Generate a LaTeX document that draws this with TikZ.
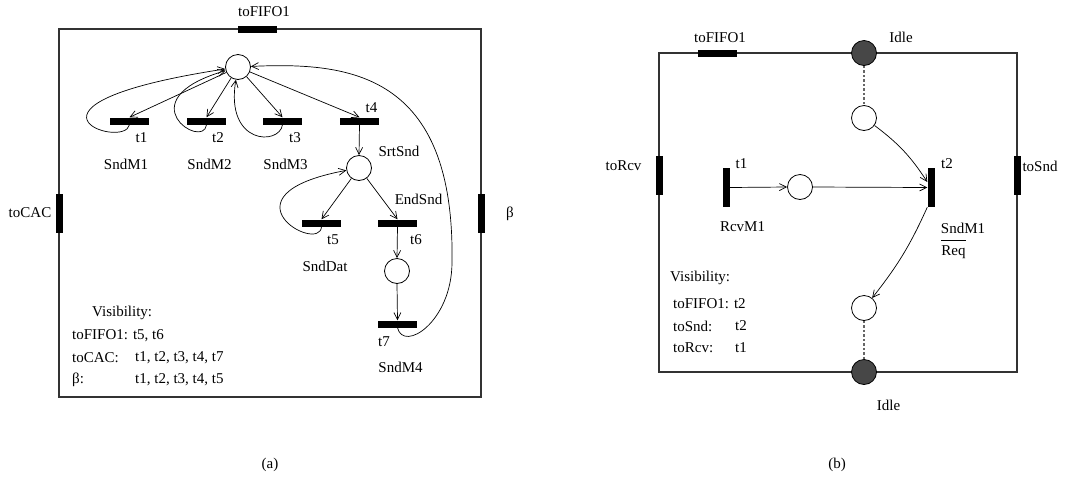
\documentclass[tikz,border=0pt]{standalone}
\usepackage{fontspec}
\setmainfont{Liberation Serif}
\usetikzlibrary{arrows.meta}
\begin{document}
\begin{tikzpicture}[x=1pt,y=-1pt,
  every node/.style={font=\fontsize{15}{18}\selectfont, inner sep=0pt},
  hbar/.style={fill=black, minimum width=39pt, minimum height=7pt},
  vbar/.style={fill=black, minimum width=7pt, minimum height=39pt},
  place/.style={circle, draw, fill=white, minimum size=25pt, line width=0.8pt},
  idle/.style={place, fill=black!72},
  arr/.style={-{Straight Barb[length=7pt,width=7pt]}, line width=0.7pt},
  frame/.style={draw=black!80, line width=1.1pt},
  dotl/.style={draw=black!60, line width=1.3pt, dash pattern=on 2.5pt off 2pt},
  txt/.style={anchor=west}
]
\useasboundingbox (0,0) rectangle (1065,483);

% ---------------- (a) ----------------
\draw[frame] (59,29) rectangle (481,397);
\node[hbar] (fifoA) at (257,29) {};
\node[vbar] (cac) at (59,213) {};
\node[vbar] (beta) at (481,213) {};
\node (fifoAl) at (264,12) {toFIFO1};
\node (cacl) at (30,213) {toCAC};
\node (betal) at (510,214) {β};

\node[place] (P0) at (238,67) {};
\node[hbar] (t1) at (129.5,121) {};
\node[hbar] (t2) at (206.5,121) {};
\node[hbar] (t3) at (282.5,121) {};
\node[hbar] (t4) at (359.5,121) {};
\node[place] (SS) at (359,168) {};
\node[hbar] (t5) at (321.5,223) {};
\node[hbar] (t6) at (397.5,223) {};
\node[place] (P3) at (397,271) {};
\node[hbar] (t7) at (397.5,324) {};
\coordinate (bend) at (452,262);

\node (t1l) at (141.5,138) {t1};
\node (t2l) at (218,138) {t2};
\node (t3l) at (295,138) {t3};
\node (t4l) at (371.5,108) {t4};
\node (m1l) at (126,164) {SndM1};
\node (m2l) at (209.5,164) {SndM2};
\node (m3l) at (285.5,164) {SndM3};
\node (ssl) at (399,151) {SrtSnd};
\node (esl) at (418.5,199) {EndSnd};
\node (t5l) at (333,240) {t5};
\node (t6l) at (416,240) {t6};
\node (sdl) at (325,266) {SndDat};
\node (t7l) at (384,342) {t7};
\node (m4l) at (400.5,367) {SndM4};

\draw[arr] (P0) -- (t1.north);
\draw[arr] (P0) -- (t2.north);
\draw[arr] (P0) -- (t3.north);
\draw[arr] (P0) -- (t4.north);
\draw[arr] (t1.south) .. controls +(-5,26) and +(-248,38) .. (P0);
\draw[arr] (t2.south) .. controls +(-3,26) and +(-113,33) .. (P0);
\draw[arr] (t3.south) .. controls +(-3,21) and +(-13,78) .. (P0);
\draw[arr] (t4.south) -- (SS.north);
\draw[arr] (SS) -- (t5.north);
\draw[arr] (SS) -- (t6.north);
\draw[arr] (t5.south) .. controls +(-2,28) and +(-144,27) .. (SS);
\draw[arr] (t6.south) -- (P3.north);
\draw[arr] (P3.south) -- (t7.north);
\draw[arr] (t7.south) .. controls +(6,25) and +(0,60) .. (bend)
  .. controls +(3,-190) and +(110,-5) .. (P0);

\node[txt] (visA) at (92,313) {Visibility:};
\node[txt] (vA1) at (72,336) {toFIFO1: t5, t6};
\node[txt] (vA2) at (72,358) {toCAC:};
\node[txt] (vA2b) at (135,358) {t1, t2, t3, t4, t7};
\node[txt] (vA3) at (72,380) {β:};
\node[txt] (vA3b) at (135,380) {t1, t2, t3, t4, t5};

\node (capa) at (270,465) {(a)};

% ---------------- (b) ----------------
\draw[frame] (659,53) rectangle (1017,372);
\node[hbar] (fifoB) at (717,53) {};
\node[vbar] (rcv) at (659,175) {};
\node[vbar] (snd) at (1017,175) {};
\node (fifoBl) at (720,38) {toFIFO1};
\node (rcvl) at (623.5,166) {toRcv};
\node (sndl) at (1040,166) {toSnd};

\node[idle] (Iu) at (864,53) {};
\node[idle] (Il) at (864,372) {};
\node (Iul) at (901,37) {Idle};
\node (Ill) at (888.5,405) {Idle};

\node[place] (Pu) at (864,118) {};
\node[vbar] (rt1) at (726,187.5) {};
\node[place] (Pm) at (800,187) {};
\node[vbar] (rt2) at (931,187.5) {};
\node[place] (Pl) at (864,308) {};

\node (rt1l) at (741.5,164) {t1};
\node (rcvm) at (742.5,227) {RcvM1};
\node (rt2l) at (947,164) {t2};
\node (sm1) at (963,228) {SndM1};
\node (req) at (953.5,249) {$\overline{\mbox{Req}\rule{0pt}{14pt}}$};

\draw[dotl] (Iu.south) -- (Pu.north);
\draw[dotl] (Pl.south) -- (Il.north);
\draw[arr] (rt1.east) -- (Pm.west);
\draw[arr] (Pm.east) -- (rt2.west);
\draw[arr] (Pu) to[bend left=10] ([yshift=5.5pt]rt2.west);
\draw[arr] (rt2.south west) to[bend left=7] (Pl);

\node[txt] (visB) at (670,278) {Visibility:};
\node[txt] (vB1) at (673,304) {toFIFO1: t2};
\node[txt] (vB2) at (673,326) {toSnd:};
\node[txt] (vB2b) at (735,326) {t2};
\node[txt] (vB3) at (673,348) {toRcv:};
\node[txt] (vB3b) at (735,348) {t1};

\node (capb) at (837,465) {(b)};
\end{tikzpicture}
\end{document}
